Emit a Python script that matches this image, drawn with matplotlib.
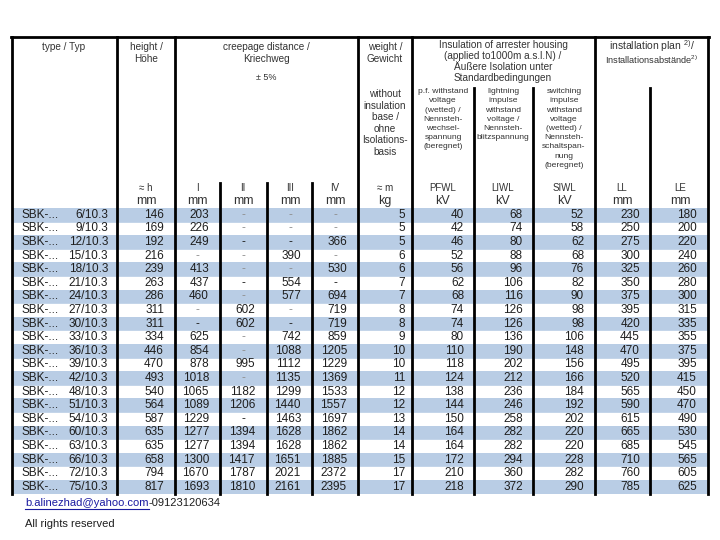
import matplotlib.pyplot as plt

plt.rcParams['font.family'] = ['Liberation Sans', 'DejaVu Sans']
plt.rcParams['mathtext.fontset'] = 'custom'
plt.rcParams['mathtext.rm'] = 'Liberation Sans'

# table data (None = faint dash, '-' = dark dash)
ratings = ['6/10.3', '9/10.3', '12/10.3', '15/10.3', '18/10.3', '21/10.3', '24/10.3',
           '27/10.3', '30/10.3', '33/10.3', '36/10.3', '39/10.3', '42/10.3', '48/10.3',
           '51/10.3', '54/10.3', '60/10.3', '63/10.3', '66/10.3', '72/10.3', '75/10.3']
height = [146, 169, 192, 216, 239, 263, 286, 311, 311, 334, 446, 470, 493, 540,
          564, 587, 635, 635, 658, 794, 817]
creep_I = [203, 226, 249, None, 413, 437, 460, None, '-', 625, 854, 878, 1018, 1065,
           1089, 1229, 1277, 1277, 1300, 1670, 1693]
creep_II = [None, None, '-', None, None, '-', None, 602, 602, None, None, 995, None, 1182,
            1206, '-', 1394, 1394, 1417, 1787, 1810]
creep_III = [None, None, '-', 390, None, 554, 577, None, '-', 742, 1088, 1112, 1135, 1299,
             1440, 1463, 1628, 1628, 1651, 2021, 2161]
creep_IV = [None, None, 366, None, 530, '-', 694, 719, 719, 859, 1205, 1229, 1369, 1533,
            1557, 1697, 1862, 1862, 1885, 2372, 2395]
weight = [5, 5, 5, 6, 6, 7, 7, 8, 8, 9, 10, 10, 11, 12, 12, 13, 14, 14, 15, 17, 17]
pfwl = [40, 42, 46, 52, 56, 62, 68, 74, 74, 80, 110, 118, 124, 138, 144, 150, 164, 164,
        172, 210, 218]
liwl = [68, 74, 80, 88, 96, 106, 116, 126, 126, 136, 190, 202, 212, 236, 246, 258, 282,
        282, 294, 360, 372]
siwl = [52, 58, 62, 68, 76, 82, 90, 98, 98, 106, 148, 156, 166, 184, 192, 202, 220, 220,
        228, 282, 290]
ll = [230, 250, 275, 300, 325, 350, 375, 395, 420, 445, 470, 495, 520, 565, 590, 615, 665,
      685, 710, 760, 785]
le = [180, 200, 220, 240, 260, 280, 300, 315, 335, 355, 375, 395, 415, 450, 470, 490, 530,
      545, 565, 605, 625]

fig = plt.figure(figsize=(7.2, 5.4), dpi=100)
ax = fig.add_axes([0, 0, 1, 1])
ax.set_xlim(0, 720)
ax.set_ylim(540, 0)
ax.axis('off')

top, head_bot, row_h = 37, 208, 13.6
n = len(ratings)
bottom = head_bot + n * row_h
blue = '#b9cde5'
txt = '#1e1e1e'
hcol = '#333333'

# row bands
for i in range(n):
    y0 = head_bot + i * row_h
    if i % 2 == 0:
        ax.fill_between([12, 708], y0, y0 + row_h, color=blue, lw=0)
    ax.plot([12, 708], [y0, y0], color=blue, lw=0.6)

# grid lines
lw = 2.0
ax.plot([11, 709], [top, top], color='k', lw=lw)
for x in [12, 117, 175, 358, 412, 595, 708]:
    ax.plot([x, x], [top, bottom], color='k', lw=lw)
for x in [220, 267, 312]:
    ax.plot([x, x], [183, bottom], color='k', lw=lw)
for x in [474, 533, 650]:
    ax.plot([x, x], [88, bottom], color='k', lw=lw)

# header
hs = 7.2
ax.text(64, 42, 'type / Typ', ha='center', va='top', fontsize=hs, color=hcol)
ax.text(146, 42, 'height /\nHöhe', ha='center', va='top', fontsize=hs, color=hcol,
        linespacing=1.2)
ax.text(266, 42, 'creepage distance /\nKriechweg', ha='center', va='top', fontsize=hs,
        color=hcol, linespacing=1.2)
ax.text(266, 78, '± 5%', ha='center', va='center', fontsize=6.5, color=hcol)
ax.text(385, 42, 'weight /\nGewicht', ha='center', va='top', fontsize=hs, color=hcol,
        linespacing=1.2)
ax.text(503, 40, 'Insulation of arrester housing\n(applied to1000m a.s.l.N) /\n'
        'Äußere Isolation unter\nStandardbedingungen', ha='center', va='top',
        fontsize=hs, color=hcol, linespacing=1.12)
ax.text(652, 46, r'installation plan $^{\mathregular{2)}}$/', ha='center', va='center',
        fontsize=7.5, color=hcol)
ax.text(652, 60, r'Installationsabstände$^{\mathregular{2)}}$', ha='center', va='center',
        fontsize=6.6, color=hcol)

ss = 6.1
ax.text(385, 89, 'without\ninsulation\nbase /\nohne\nIsolations-\nbasis', ha='center',
        va='top', fontsize=7.2, color=hcol, linespacing=1.2)
ax.text(443, 88, 'p.f. withstand\nvoltage\n(wetted) /\nNennsteh-\nwechsel-\nspannung\n(beregnet)',
        ha='center', va='top', fontsize=ss, color=hcol, linespacing=1.45)
ax.text(503, 88, 'lightning\nimpulse\nwithstand\nvoltage /\nNennsteh-\nblitzspannung',
        ha='center', va='top', fontsize=ss, color=hcol, linespacing=1.45)
ax.text(564, 88, 'switching\nimpulse\nwithstand\nvoltage\n(wetted) /\nNennsteh-\n'
        'schaltspan-\nnung\n(beregnet)', ha='center', va='top', fontsize=ss, color=hcol,
        linespacing=1.45)

symbols = [(146, '≈ h', 'mm'), (197, 'I', 'mm'), (243, 'II', 'mm'), (290, 'III', 'mm'),
           (335, 'IV', 'mm'), (385, '≈ m', 'kg'), (443, 'PFWL', 'kV'), (503, 'LIWL', 'kV'),
           (564, 'SIWL', 'kV'), (622, 'LL', 'mm'), (680, 'LE', 'mm')]
for x, s, u in symbols:
    ax.text(x, 188, s, ha='center', va='center', fontsize=7, color=hcol)
    ax.text(x, 201, u, ha='center', va='center', fontsize=9, color=hcol)

# data rows
fs = 8.5
num_cols = [(height, 164, 146), (creep_I, 209, 197), (creep_II, 255, 243),
            (creep_III, 301, 290), (creep_IV, 347, 335), (weight, 405, 385),
            (pfwl, 464, 443), (liwl, 523, 503), (siwl, 584, 564), (ll, 640, 622),
            (le, 697, 680)]
for i in range(n):
    yc = head_bot + (i + 0.5) * row_h
    ax.text(21, yc, 'SBK-...', ha='left', va='center', fontsize=fs, color=txt)
    ax.text(108, yc, ratings[i], ha='right', va='center', fontsize=fs, color=txt)
    for vals, xr, xm in num_cols:
        v = vals[i]
        if v is None:
            ax.text(xm, yc, '-', ha='center', va='center', fontsize=fs, color='#8f8f8f')
        elif v == '-':
            ax.text(xm, yc, '-', ha='center', va='center', fontsize=fs, color=txt)
        else:
            ax.text(xr, yc, str(v), ha='right', va='center', fontsize=fs, color=txt)

# footer
mail = ax.text(25, 503, 'b.alinezhad@yahoo.com', ha='left', va='center', fontsize=8,
               color='#1a1aa0')
fig.canvas.draw()
bb = mail.get_window_extent().transformed(ax.transData.inverted())
x1 = max(bb.x0, bb.x1)
ax.plot([25, x1], [508.5, 508.5], color='#1a1aa0', lw=0.8)
ax.text(x1, 503, '-09123120634', ha='left', va='center', fontsize=8, color=txt)
ax.text(25, 524, 'All rights reserved', ha='left', va='center', fontsize=8, color=txt)

fig.savefig('out.png', dpi=100)
